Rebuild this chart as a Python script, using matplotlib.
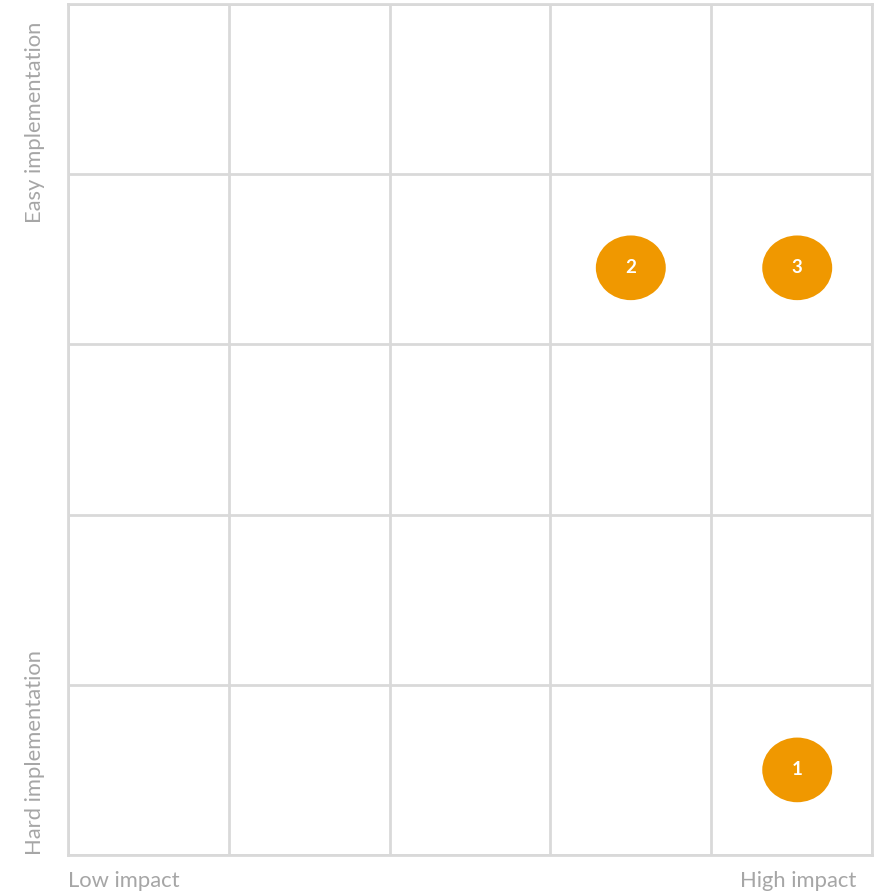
import matplotlib.pyplot as plt
from matplotlib.patches import Ellipse

# data (impact 0-10, ease of implementation 0-10)
labels = ["1", "2", "3"]
impact = [9.07, 7.0, 9.07]
ease = [1.0, 6.9, 6.9]

orange = "#F09800"
grid_col = "#d9d9d9"
text_col = "#a6a6a6"

plt.rcParams["font.family"] = ["Lato", "DejaVu Sans"]

fig = plt.figure(figsize=(8.81, 8.93), dpi=100)
ax = fig.add_axes([68 / 881, 38 / 893, 804 / 881, 851 / 893])
ax.set_xlim(0, 10)
ax.set_ylim(0, 10)
ax.set_xticks(range(0, 11, 2))
ax.set_yticks(range(0, 11, 2))
ax.grid(True, color=grid_col, linewidth=2)
ax.tick_params(length=0, labelbottom=False, labelleft=False)
for s in ax.spines.values():
    s.set_color(grid_col)
    s.set_linewidth(2)
ax.set_axisbelow(True)

for lab, x, y in zip(labels, impact, ease):
    ax.add_patch(Ellipse((x, y), 0.87, 0.76, facecolor=orange, edgecolor="none", zorder=3))
    ax.text(x, y, lab, color="white", fontsize=13.5, fontweight="bold",
            ha="center", va="center", zorder=4)

fig.text(68 / 881, 1 - 881 / 893, "Low impact", color=text_col, fontsize=15.8,
         ha="left", va="center")
fig.text(856 / 881, 1 - 881 / 893, "High impact", color=text_col, fontsize=15.8,
         ha="right", va="center")
fig.text(35 / 881, 1 - 22 / 893, "Easy implementation", color=text_col, fontsize=15.8,
         ha="center", va="top", rotation=90)
fig.text(35 / 881, 1 - 855 / 893, "Hard implementation", color=text_col, fontsize=15.8,
         ha="center", va="bottom", rotation=90)

fig.savefig("out.png", dpi=100)
